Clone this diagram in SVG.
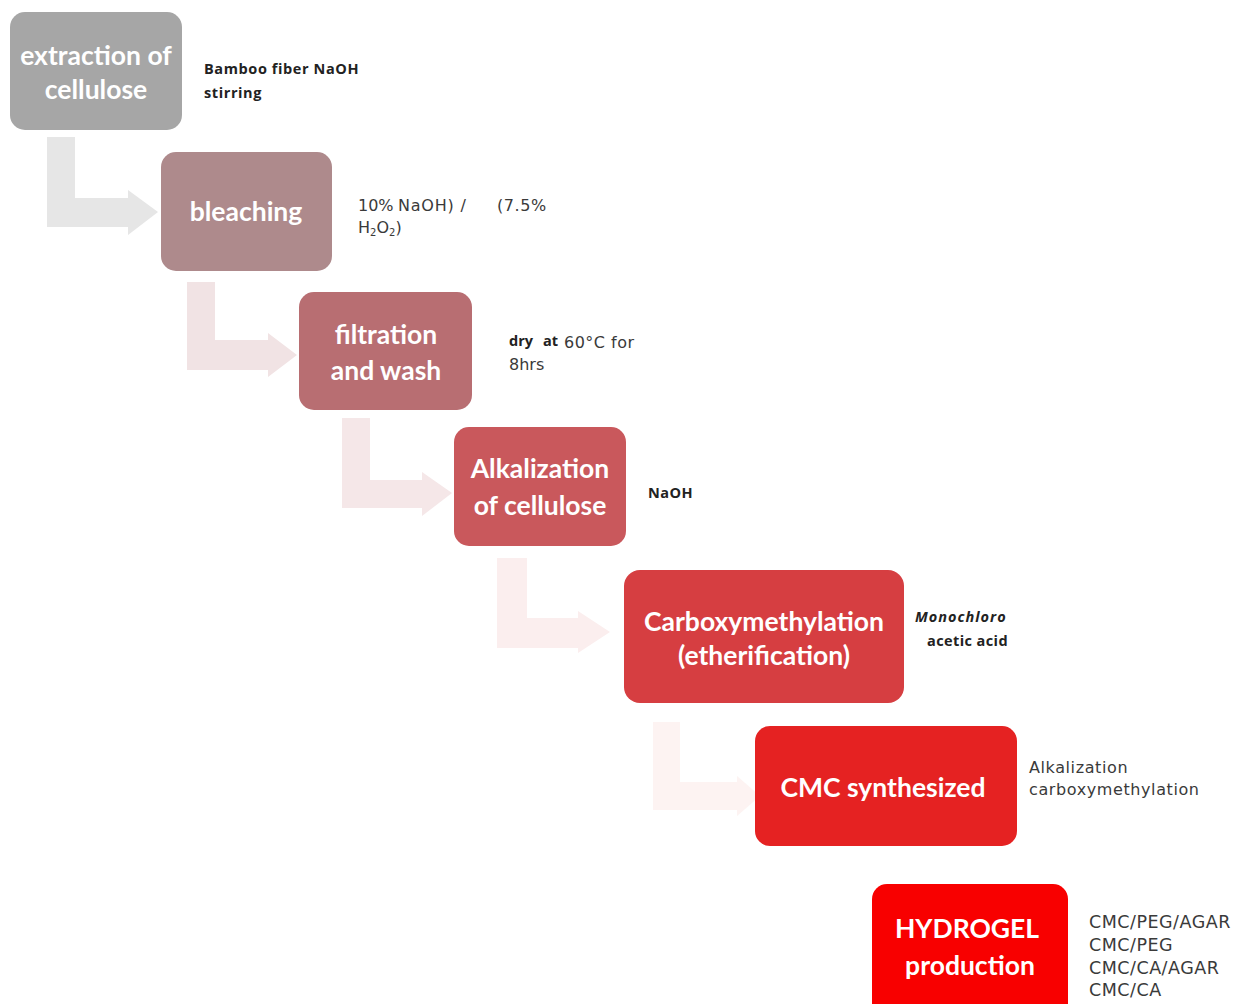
<svg xmlns="http://www.w3.org/2000/svg" width="1242" height="1004" viewBox="0 0 1242 1004">
<style>
.box text{font-family:Lato,"Open Sans","Liberation Sans",sans-serif;font-weight:700;font-size:26.5px;fill:#ffffff;text-anchor:middle}
.note{font-family:"DejaVu Sans","Liberation Sans",sans-serif;font-size:16px;fill:#3a3a3a}
.noteb{font-family:"Open Sans","Liberation Sans",sans-serif;font-weight:700;font-size:14.5px;fill:#222222}
.list{font-family:"DejaVu Sans","Liberation Sans",sans-serif;font-size:17.5px;fill:#3a3a3a;letter-spacing:0.5px}
</style>
<rect width="1242" height="1004" fill="#ffffff"/>
<g id="connectors">
<path d="M47 137 H75 V198 H128 V190 L158 212 L128 235 V227 H47 Z" fill="#e6e6e6"/>
<path d="M187 282 H215 V340 H268 V333 L297 355 L268 377 V370 H187 Z" fill="#f1e3e4"/>
<path d="M342 418 H370 V480 H422 V472 L452 493 L422 516 V508 H342 Z" fill="#f5e7e8"/>
<path d="M497 558 H527 V618 H578 V611 L610 632 L578 653 V648 H497 Z" fill="#fbeeee"/>
<path d="M653 722 H680 V782 H737 V776 L760 796 L737 816 V810 H653 Z" fill="#fdf3f2"/>
</g>
<g id="n1" class="box">
<rect x="10" y="12" width="172" height="118" rx="15" fill="#a6a6a6"/>
<text x="96" y="65">extraction of</text>
<text x="96" y="99">cellulose</text>
</g>
<g id="n2" class="box">
<rect x="161" y="152" width="171" height="119" rx="15" fill="#ae8a8c"/>
<text x="246" y="221">bleaching</text>
</g>
<g id="n3" class="box">
<rect x="299" y="292" width="173" height="118" rx="15" fill="#b86e72"/>
<text x="386" y="344">filtration</text>
<text x="386" y="380">and wash</text>
</g>
<g id="n4" class="box">
<rect x="454" y="427" width="172" height="119" rx="15" fill="#c9585c"/>
<text x="540" y="478">Alkalization</text>
<text x="540" y="515">of cellulose</text>
</g>
<g id="n5" class="box">
<rect x="624" y="570" width="280" height="133" rx="16" fill="#d63e41"/>
<text x="764" y="631">Carboxymethylation</text>
<text x="764" y="665">(etherification)</text>
</g>
<g id="n6" class="box">
<rect x="755" y="726" width="262" height="120" rx="15" fill="#e52222"/>
<text x="883" y="797">CMC synthesized</text>
</g>
<g id="n7" class="box">
<rect x="872" y="884" width="196" height="140" rx="15" fill="#f80000"/>
<text x="967" y="938">HYDROGEL</text>
<text x="970" y="975">production</text>
</g>
<g id="notes">
<text class="noteb" x="204" y="74" letter-spacing="0.6">Bamboo fiber NaOH</text>
<text class="noteb" x="204" y="98" letter-spacing="0.6">stirring</text>
<text class="note" x="358" y="211">10%<tspan x="398" letter-spacing="0.8">NaOH) /</tspan><tspan x="497" letter-spacing="0.6">(7.5%</tspan></text>
<text class="note" x="358" y="233">H<tspan font-size="10" dy="3">2</tspan><tspan dy="-3">O</tspan><tspan font-size="10" dy="3">2</tspan><tspan dy="-3">)</tspan></text>
<text class="noteb" x="509" y="346" font-size="13">dry</text>
<text class="noteb" x="543" y="346" font-size="12">at</text>
<text class="note" x="564" y="348" letter-spacing="0.5">60°C for</text>
<text class="note" x="509" y="370">8hrs</text>
<text class="noteb" x="648" y="498" letter-spacing="0.5">NaOH</text>
<text class="noteb" x="915" y="622" font-style="italic" letter-spacing="1">Monochloro</text>
<text class="noteb" x="1008" y="646" text-anchor="end" letter-spacing="0.4">acetic acid</text>
<text class="note" x="1029" y="773" font-size="18" letter-spacing="0.6">Alkalization</text>
<text class="note" x="1029" y="795" font-size="18" letter-spacing="0.6">carboxymethylation</text>
<text class="list" x="1089" y="928">CMC/PEG/AGAR</text>
<text class="list" x="1089" y="951">CMC/PEG</text>
<text class="list" x="1089" y="974">CMC/CA/AGAR</text>
<text class="list" x="1089" y="996">CMC/CA</text>
</g>
</svg>
